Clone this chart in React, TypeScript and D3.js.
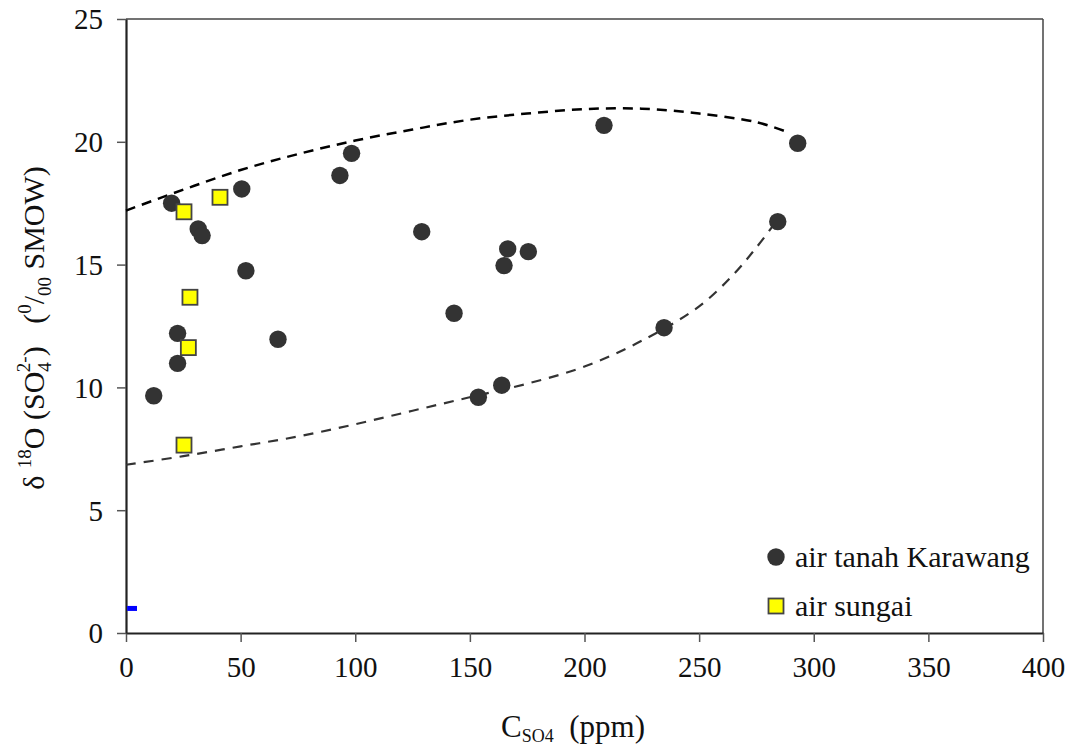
import { useEffect, useRef } from "react";
import * as d3 from "d3";

// air tanah Karawang (groundwater)
const tanahX = [19.9, 31.5, 33.2, 50.5, 52.3, 22.5, 22.5, 12.1, 66.3, 93.3, 98.4, 129.0, 143.1, 153.7, 163.9, 164.9, 166.5, 175.5, 208.5, 234.7, 284.3, 293.0];
const tanahY = [17.5, 16.45, 16.18, 18.08, 14.75, 12.2, 10.98, 9.66, 11.96, 18.63, 19.53, 16.34, 13.02, 9.6, 10.09, 14.96, 15.64, 15.53, 20.67, 12.43, 16.75, 19.94];

// air sungai (river water)
const sungaiX = [25.3, 41.0, 27.9, 27.2, 25.3];
const sungaiY = [17.15, 17.74, 13.67, 11.62, 7.65];

// upper / lower envelope curves
const upperX = [0, 25, 50, 75, 100, 125, 150, 175, 200, 225, 250, 275, 287];
const upperY = [17.2, 18.05, 18.85, 19.5, 20.05, 20.5, 20.9, 21.15, 21.33, 21.35, 21.15, 20.8, 20.45];
const lowerX = [0, 25, 50, 75, 100, 125, 150, 175, 200, 225, 250, 265, 275, 284];
const lowerY = [6.85, 7.2, 7.6, 8.0, 8.5, 9.05, 9.6, 10.15, 10.85, 11.9, 13.3, 14.6, 15.7, 16.8];

const xTicks = [0, 50, 100, 150, 200, 250, 300, 350, 400];
const yTicks = [0, 5, 10, 15, 20, 25];
const legendLabels = ["air tanah Karawang", "air sungai"];

const W = 1077;
const H = 749;
const margin = { top: 19, right: 34, bottom: 116, left: 126 };
const FONT = "'Liberation Serif', 'Times New Roman', serif";

export default function App() {
  const ref = useRef<SVGSVGElement>(null);

  useEffect(() => {
    document.body.style.margin = "0";
    const svg = d3.select(ref.current);
    svg.selectAll("*").remove();

    const x = d3.scaleLinear().domain([0, 400]).range([margin.left, W - margin.right]);
    const y = d3.scaleLinear().domain([0, 25]).range([H - margin.bottom, margin.top]);

    // frame top/right
    svg.append("line")
      .attr("x1", x(0)).attr("x2", x(400)).attr("y1", y(25)).attr("y2", y(25))
      .attr("stroke", "#444").attr("stroke-width", 1.5);
    svg.append("line")
      .attr("x1", x(400)).attr("x2", x(400)).attr("y1", y(25)).attr("y2", y(0))
      .attr("stroke", "#444").attr("stroke-width", 1.5);

    const xAxis = svg.append("g")
      .attr("transform", `translate(0,${y(0)})`)
      .call(d3.axisBottom(x).tickValues(xTicks).tickSize(9).tickPadding(14).tickSizeOuter(0));
    const yAxis = svg.append("g")
      .attr("transform", `translate(${x(0)},0)`)
      .call(d3.axisLeft(y).tickValues(yTicks).tickSize(9).tickPadding(14).tickSizeOuter(0));

    [xAxis, yAxis].forEach((a) => {
      a.select(".domain").attr("stroke", "#222").attr("stroke-width", 2.2);
      a.selectAll(".tick line").attr("stroke", "#555").attr("stroke-width", 1.5);
      a.selectAll(".tick text")
        .attr("font-family", FONT).attr("font-size", 29).attr("fill", "#111");
    });
    yAxis.selectAll(".tick text").attr("dy", "0.34em");
    xAxis.selectAll(".tick text").attr("dy", "0.71em");

    // blue mark near origin
    svg.append("rect")
      .attr("x", x(0.5)).attr("y", y(1) - 2.5)
      .attr("width", x(4.8) - x(0.5)).attr("height", 5)
      .attr("fill", "#0000ff");

    // envelope curves
    const line = d3.line<[number, number]>()
      .x((d) => x(d[0])).y((d) => y(d[1]))
      .curve(d3.curveCatmullRom);
    svg.append("path")
      .attr("d", line(upperX.map((v, i) => [v, upperY[i]])))
      .attr("fill", "none").attr("stroke", "#000").attr("stroke-width", 2.5)
      .attr("stroke-dasharray", "10,7");
    svg.append("path")
      .attr("d", line(lowerX.map((v, i) => [v, lowerY[i]])))
      .attr("fill", "none").attr("stroke", "#333").attr("stroke-width", 2.2)
      .attr("stroke-dasharray", "10,8");

    // points
    svg.append("g").selectAll("circle")
      .data(tanahX.map((v, i) => [v, tanahY[i]]))
      .join("circle")
      .attr("cx", (d) => x(d[0])).attr("cy", (d) => y(d[1]))
      .attr("r", 8.7).attr("fill", "#333");
    const s = 15;
    svg.append("g").selectAll("rect")
      .data(sungaiX.map((v, i) => [v, sungaiY[i]]))
      .join("rect")
      .attr("x", (d) => x(d[0]) - s / 2).attr("y", (d) => y(d[1]) - s / 2)
      .attr("width", s).attr("height", s)
      .attr("fill", "#ffff00").attr("stroke", "#444").attr("stroke-width", 1.8);

    // legend
    const lg = svg.append("g").attr("transform", "translate(776,557)");
    lg.append("circle").attr("cx", 0).attr("cy", 0).attr("r", 8.7).attr("fill", "#333");
    lg.append("rect").attr("x", -s / 2).attr("y", 49 - s / 2).attr("width", s).attr("height", s)
      .attr("fill", "#ffff00").attr("stroke", "#444").attr("stroke-width", 1.8);
    lg.selectAll("text")
      .data(legendLabels)
      .join("text")
      .attr("x", 19).attr("y", (_, i) => i * 49 + 10)
      .attr("font-family", FONT).attr("font-size", 30).attr("fill", "#111")
      .text((d) => d);

    // x title
    const xt = svg.append("text")
      .attr("x", 501).attr("y", 737)
      .attr("font-family", FONT).attr("font-size", 31).attr("fill", "#111");
    xt.append("tspan").text("C");
    xt.append("tspan").attr("font-size", 18).attr("dy", 5).text("SO4");
    xt.append("tspan").attr("dy", -5).text("\u00a0\u00a0(ppm)");

    // y title
    const yt = svg.append("text")
      .attr("transform", `translate(44,${328}) rotate(-90)`)
      .attr("text-anchor", "middle")
      .attr("font-family", FONT).attr("font-size", 30).attr("fill", "#111");
    yt.append("tspan").text("\u03b4 ");
    yt.append("tspan").attr("font-size", 19).attr("dy", -13).text("18");
    yt.append("tspan").attr("dy", 13).text("O (SO");
    yt.append("tspan").attr("font-size", 19).attr("dy", 7).text("4");
    yt.append("tspan").attr("font-size", 19).attr("dx", -10).attr("dy", -21).text("2-");
    yt.append("tspan").attr("dy", 14).text(")\u00a0\u00a0\u00a0(");
    yt.append("tspan").attr("font-size", 19).attr("dy", -13).text("0");
    yt.append("tspan").attr("dy", 13).text("/");
    yt.append("tspan").attr("font-size", 19).attr("dy", 7).text("00");
    yt.append("tspan").attr("dy", -7).text(" SMOW)");
  }, []);

  return <svg ref={ref} width={W} height={H} style={{ display: "block", background: "#fff" }} />;
}
